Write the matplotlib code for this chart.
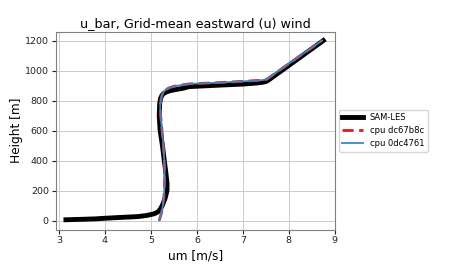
import numpy as np
import matplotlib.pyplot as plt

# profile values
height_les = [5, 8, 11, 15, 20, 26, 33, 40, 45, 55, 65, 75, 90, 110, 150, 200, 250, 330, 400, 500,
              600, 700, 780, 815, 835, 848, 858, 866, 874, 882, 893, 903, 910, 917, 922, 927, 935, 1200]
u_les = [3.15, 3.5, 3.8, 4.0, 4.3, 4.71, 4.9, 5.0, 5.07, 5.14, 5.18, 5.2, 5.23, 5.26, 5.31, 5.35, 5.35, 5.32, 5.29, 5.25,
         5.2, 5.18, 5.19, 5.21, 5.24, 5.28, 5.34, 5.42, 5.55, 5.7, 5.83, 6.5, 7.0, 7.3, 7.43, 7.5, 7.55, 8.75]

height_cpu = [0, 10, 20, 40, 70, 100, 150, 200, 300, 400, 500, 600, 700, 767, 811, 835, 855, 872,
              885, 895, 903, 911, 920, 928, 936, 942, 1200]
u_cpu_a = [5.18, 5.19, 5.2, 5.22, 5.24, 5.26, 5.28, 5.29, 5.3, 5.29, 5.27, 5.24, 5.21, 5.2, 5.22, 5.24, 5.27, 5.32,
           5.4, 5.5, 5.65, 5.83, 6.5, 7.0, 7.43, 7.52, 8.72]
u_cpu_b = [5.18, 5.19, 5.2, 5.22, 5.24, 5.26, 5.28, 5.29, 5.3, 5.29, 5.27, 5.24, 5.21, 5.2, 5.22, 5.24, 5.27, 5.32,
           5.4, 5.5, 5.65, 5.83, 6.5, 7.0, 7.43, 7.52, 8.72]

fig = plt.figure(figsize=(4.5, 2.7), dpi=100)
ax = fig.add_axes([0.124, 0.15, 0.62, 0.733])

ax.plot(u_les, height_les, color='black', linewidth=3.5, label='SAM-LES')
ax.plot(u_cpu_a, height_cpu, color='#e31a1c', linewidth=2, linestyle=(0, (4, 2)), label='cpu dc67b8c')
ax.plot(u_cpu_b, height_cpu, color='#3a86c0', linewidth=1.3, label='cpu 0dc4761')

ax.set_xlim(2.93, 9.0)
ax.set_ylim(-60, 1260)
ax.set_xticks(np.arange(3, 10, 1))
ax.set_yticks(np.arange(0, 1201, 200))
ax.tick_params(labelsize=6.8, colors='#222222', length=3, pad=2)
ax.grid(True, color='#cccccc', linewidth=0.7)
for s in ax.spines.values():
    s.set_color('#808080')

ax.set_title('u_bar, Grid-mean eastward (u) wind', fontsize=9.2, pad=3)
ax.set_xlabel('um [m/s]', fontsize=8.7, labelpad=3)
ax.set_ylabel('Height [m]', fontsize=8.7, labelpad=1)
ax.legend(loc='center left', bbox_to_anchor=(1.0, 0.5), fontsize=6, handlelength=2.5)

fig.savefig('out.png', dpi=100)
